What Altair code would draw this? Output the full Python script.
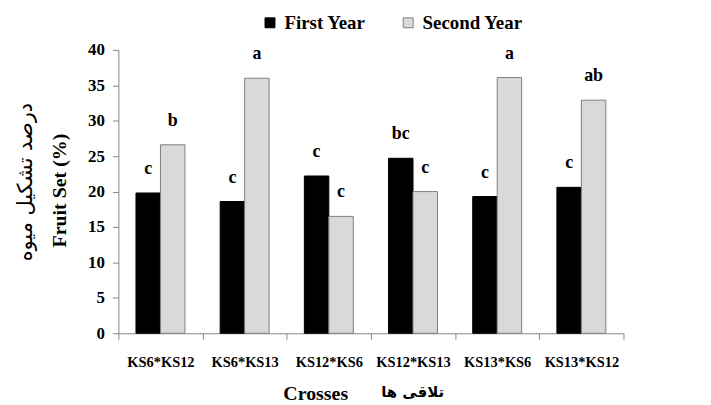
import altair as alt
import pandas as pd

crosses = ["KS6*KS12", "KS6*KS13", "KS12*KS6", "KS12*KS13", "KS13*KS6", "KS13*KS12"]
series_names = ["First Year", "Second Year"]
first_year = [19.8, 18.6, 22.2, 24.7, 19.3, 20.6]
second_year = [26.6, 36.0, 16.5, 20.0, 36.1, 32.9]
first_letters = ["c", "c", "c", "bc", "c", "c"]
second_letters = ["b", "a", "c", "c", "a", "ab"]
y_ticks = [0, 5, 10, 15, 20, 25, 30, 35, 40]

y_title_en = "Fruit Set (%)"
y_title_fa = "درصد تشکیل میوه"
x_title_en = "Crosses"
x_title_fa = "تلاقی ها"

rows = []
for i, c in enumerate(crosses):
    rows.append({"cross": c, "series": series_names[0], "value": first_year[i], "letter": first_letters[i]})
    rows.append({"cross": c, "series": series_names[1], "value": second_year[i], "letter": second_letters[i]})
df = pd.DataFrame(rows)

SERIF = "Liberation Serif"

x_enc = alt.X(
    "cross:N", sort=crosses,
    scale=alt.Scale(paddingInner=0, paddingOuter=0),
    axis=alt.Axis(
        title=x_title_en, labelAngle=0, tickBand="extent", labelOverlap=False,
        labelFont=SERIF, labelFontWeight="bold", labelFontSize=14.5, labelColor="black",
        labelPadding=16, tickSize=6, tickColor="#868686", domainColor="#868686",
        titleFont=SERIF, titleFontWeight="bold", titleFontSize=20, titleColor="black",
        titleX=198, titleY=67, titleBaseline="alphabetic", titleAlign="center",
    ),
)
xoff = alt.XOffset("series:N", sort=series_names,
                   scale=alt.Scale(paddingOuter=0.72, paddingInner=0))
y_enc = alt.Y(
    "value:Q",
    scale=alt.Scale(domain=[0, 40], nice=False),
    axis=alt.Axis(
        title=y_title_en, values=y_ticks, tickCount=9, grid=False, labelOverlap=False,
        labelFont=SERIF, labelFontWeight="bold", labelFontSize=17, labelColor="black",
        labelPadding=8, tickSize=6, tickColor="#868686", domainColor="#868686",
        titleFont=SERIF, titleFontWeight="bold", titleFontSize=20, titleColor="black",
        titleX=-53, titleY=141, titleBaseline="alphabetic", titleAlign="center", titleAngle=-90,
    ),
)

bars = alt.Chart(df).mark_bar(strokeWidth=1).encode(
    x=x_enc, xOffset=xoff, y=y_enc,
    color=alt.Color(
        "series:N", sort=series_names,
        scale=alt.Scale(domain=series_names, range=["#000000", "#D9D9D9"]),
        legend=alt.Legend(
            title=None, orient="none", direction="horizontal",
            legendX=143, legendY=-37, padding=0, columnPadding=33,
            symbolType="square", symbolSize=100, symbolStrokeColor="#555555", symbolStrokeWidth=1,
            labelFont=SERIF, labelFontWeight="bold", labelFontSize=19, labelColor="black",
            labelOffset=5,
        ),
    ),
    stroke=alt.Stroke("series:N", sort=series_names,
                      scale=alt.Scale(domain=series_names, range=["#000000", "#7F7F7F"]),
                      legend=None),
)

letters = alt.Chart(df).mark_text(
    font=SERIF, fontWeight="bold", fontSize=18, color="black",
    baseline="alphabetic", dy=-19,
).encode(x=x_enc, xOffset=xoff, y=y_enc, text="letter:N")

fa_y = alt.Chart(pd.DataFrame({"t": [y_title_fa]})).mark_text(
    font="DejaVu Sans", fontSize=21, angle=270, baseline="middle", align="center", color="black",
).encode(x=alt.value(-93), y=alt.value(133), text="t:N")

fa_x = alt.Chart(pd.DataFrame({"t": [x_title_fa]})).mark_text(
    font="DejaVu Sans", fontSize=15, fontWeight="bold", baseline="middle", align="center", color="black",
).encode(x=alt.value(296), y=alt.value(344), text="t:N")

chart = alt.layer(bars, letters, fa_y, fa_x).properties(
    width=508, height=285,
    autosize=alt.AutoSizeParams(type="none"),
    padding={"left": 111, "top": 41, "right": 80, "bottom": 70},
).configure_view(stroke=None)

chart.save("out.html", embed_options={"renderer": "svg", "actions": False})
